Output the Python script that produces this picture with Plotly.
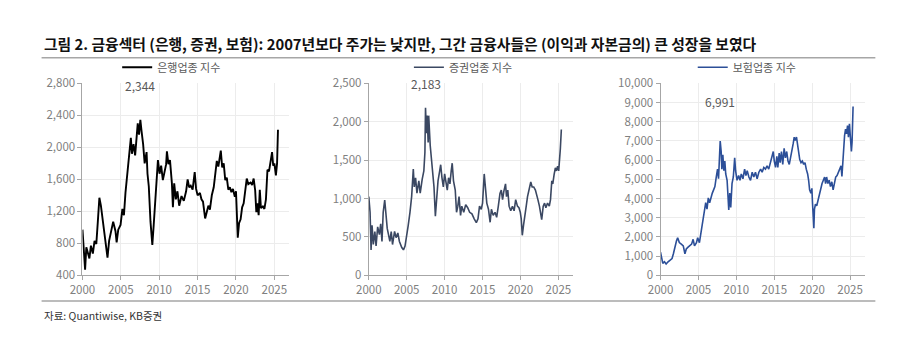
import plotly.graph_objects as go

# ---------------- data ----------------
bank_years = [2000.00, 2000.17, 2000.34, 2000.50, 2000.70, 2000.90, 2001.10, 2001.35, 2001.57, 2001.80,
              2002.00, 2002.20, 2002.40, 2002.60, 2002.85, 2003.05, 2003.26, 2003.47, 2003.77, 2004.00,
              2004.30, 2004.45, 2004.66, 2004.96, 2005.20, 2005.40, 2005.60, 2005.93, 2006.10, 2006.30,
              2006.44, 2006.65, 2006.86, 2007.08, 2007.20, 2007.37, 2007.54, 2007.70, 2007.90, 2008.10,
              2008.35, 2008.47, 2008.64, 2008.86, 2009.00, 2009.10, 2009.28, 2009.50, 2009.70, 2009.83,
              2010.04, 2010.25, 2010.47, 2010.70, 2010.90, 2011.00, 2011.20, 2011.40, 2011.65, 2011.78,
              2011.95, 2012.16, 2012.37, 2012.60, 2012.90, 2013.20, 2013.50, 2013.70, 2013.90, 2014.10,
              2014.35, 2014.62, 2014.80, 2015.00, 2015.30, 2015.50, 2015.70, 2015.98, 2016.20, 2016.40,
              2016.60, 2016.85, 2017.10, 2017.35, 2017.50, 2017.70, 2018.02, 2018.20, 2018.40, 2018.60,
              2018.80, 2019.00, 2019.20, 2019.40, 2019.60, 2019.85, 2020.00, 2020.23, 2020.40, 2020.60,
              2020.80, 2021.00, 2021.20, 2021.40, 2021.60, 2021.90, 2022.10, 2022.30, 2022.50, 2022.65,
              2022.80, 2022.95, 2023.10, 2023.25, 2023.50, 2023.70, 2023.90, 2024.10, 2024.30, 2024.50,
              2024.70, 2024.85, 2025.00, 2025.20, 2025.35, 2025.47]
bank_vals = [970, 707, 470, 750, 690, 610, 770, 670, 830, 790,
             1070, 1370, 1270, 1110, 870, 750, 620, 830, 990, 1070,
             950, 810, 970, 1030, 1230, 1150, 1430, 1800, 1880, 2120,
             1920, 2040, 1900, 2200, 2300, 2160, 2344, 2200, 2040, 1800,
             1940, 1670, 1510, 1070, 910, 780, 1030, 1350, 1750, 1840,
             1670, 1770, 1590, 1710, 1790, 1950, 1790, 1840, 1550, 1250,
             1550, 1350, 1450, 1270, 1390, 1330, 1450, 1600, 1500, 1520,
             1470, 1690, 1480, 1400, 1430, 1350, 1320, 1110, 1200, 1270,
             1220, 1400, 1500, 1710, 1830, 1760, 1960, 1750, 1800, 1590,
             1620, 1470, 1500, 1440, 1480, 1380, 1450, 870, 1050, 1100,
             1250, 1300, 1500, 1610, 1540, 1560, 1530, 1610, 1460, 1190,
             1300, 1150, 1470, 1240, 1260, 1230, 1350, 1720, 1700, 1840,
             1940, 1770, 1800, 1650, 1800, 2220]

sec_years = [2000.00, 2000.17, 2000.30, 2000.43, 2000.60, 2000.80, 2000.96, 2001.17, 2001.40, 2001.57,
             2001.74, 2001.90, 2002.10, 2002.26, 2002.43, 2002.60, 2002.78, 2002.96, 2003.13, 2003.40,
             2003.60, 2003.83, 2004.04, 2004.35, 2004.57, 2004.78, 2005.04, 2005.20, 2005.43, 2005.65,
             2005.87, 2006.00, 2006.17, 2006.35, 2006.60, 2006.78, 2007.04, 2007.26, 2007.40, 2007.48,
             2007.60, 2007.70, 2007.83, 2007.90, 2008.10, 2008.26, 2008.43, 2008.60, 2008.78, 2008.96,
             2009.13, 2009.35, 2009.48, 2009.65, 2009.83, 2010.00, 2010.17, 2010.35, 2010.52, 2010.70,
             2010.87, 2011.00, 2011.17, 2011.40, 2011.57, 2011.74, 2011.90, 2012.10, 2012.26, 2012.52,
             2012.78, 2013.04, 2013.30, 2013.60, 2013.90, 2014.18, 2014.40, 2014.60, 2014.83, 2015.00,
             2015.22, 2015.35, 2015.56, 2015.78, 2016.00, 2016.17, 2016.40, 2016.65, 2016.86, 2017.08,
             2017.30, 2017.47, 2017.64, 2017.80, 2018.03, 2018.16, 2018.33, 2018.50, 2018.72, 2018.94,
             2019.16, 2019.37, 2019.60, 2019.80, 2019.98, 2020.10, 2020.24, 2020.40, 2020.58, 2020.76,
             2020.93, 2021.10, 2021.36, 2021.54, 2021.75, 2021.97, 2022.14, 2022.30, 2022.50, 2022.66,
             2022.80, 2023.00, 2023.18, 2023.35, 2023.57, 2023.80, 2023.96, 2024.13, 2024.26, 2024.44,
             2024.60, 2024.74, 2024.90, 2025.04, 2025.17, 2025.26, 2025.39]
sec_vals = [1025, 820, 330, 650, 400, 570, 380, 630, 530, 670,
            440, 820, 980, 780, 610, 530, 440, 570, 400, 570,
            490, 550, 440, 360, 330, 380, 530, 650, 820, 1025,
            1385, 1150, 1270, 1070, 1230, 1070, 1250, 1360, 1600, 2183,
            1850, 2080, 1730, 2080, 1690, 1480, 1380, 1150, 770, 980,
            1230, 1360, 1440, 1270, 1150, 1320, 1230, 1110, 1270, 1190,
            1360, 1460, 1230, 1110, 820, 900, 1025, 780, 900, 820,
            920, 880, 820, 800, 735, 685, 735, 900, 860, 940,
            1320, 1190, 940, 860, 690, 860, 780, 820, 755, 900,
            1065, 1110, 985, 1090, 1190, 1025, 1110, 900, 840, 900,
            840, 985, 900, 880, 820, 735, 520, 650, 820, 900,
            1025, 1090, 1215, 1150, 1150, 1110, 1025, 985, 900, 820,
            725, 900, 940, 880, 940, 900, 985, 1230, 1190, 1315,
            1400, 1360, 1420, 1360, 1480, 1650, 1900]

ins_years = [2000.00, 2000.13, 2000.30, 2000.52, 2000.74, 2001.00, 2001.26, 2001.52, 2001.70, 2001.87,
             2002.10, 2002.26, 2002.48, 2002.74, 2003.00, 2003.22, 2003.40, 2003.60, 2003.87, 2004.10,
             2004.30, 2004.48, 2004.74, 2004.90, 2005.13, 2005.30, 2005.48, 2005.65, 2005.83, 2005.96,
             2006.13, 2006.30, 2006.48, 2006.65, 2006.83, 2007.00, 2007.17, 2007.35, 2007.52, 2007.65,
             2007.78, 2007.87, 2008.00, 2008.09, 2008.22, 2008.35, 2008.48, 2008.60, 2008.78, 2008.91,
             2009.00, 2009.13, 2009.26, 2009.43, 2009.60, 2009.78, 2009.90, 2010.09, 2010.30, 2010.48,
             2010.65, 2010.87, 2011.09, 2011.26, 2011.43, 2011.65, 2011.87, 2012.09, 2012.30, 2012.52,
             2012.74, 2012.97, 2013.20, 2013.40, 2013.62, 2013.84, 2014.05, 2014.27, 2014.48, 2014.70,
             2014.87, 2015.00, 2015.17, 2015.34, 2015.47, 2015.65, 2015.78, 2015.95, 2016.12, 2016.30,
             2016.47, 2016.64, 2016.81, 2016.98, 2017.16, 2017.33, 2017.50, 2017.63, 2017.76, 2017.93,
             2018.06, 2018.19, 2018.36, 2018.53, 2018.70, 2018.88, 2019.05, 2019.22, 2019.40, 2019.53,
             2019.66, 2019.83, 2019.96, 2020.04, 2020.13, 2020.22, 2020.30, 2020.43, 2020.60, 2020.78,
             2020.95, 2021.12, 2021.30, 2021.47, 2021.64, 2021.77, 2021.90, 2022.07, 2022.24, 2022.41,
             2022.59, 2022.76, 2022.93, 2023.10, 2023.28, 2023.45, 2023.62, 2023.80, 2023.92, 2024.05,
             2024.14, 2024.27, 2024.40, 2024.53, 2024.66, 2024.78, 2024.91, 2025.04, 2025.17, 2025.26,
             2025.39]
ins_vals = [1200, 870, 620, 700, 580, 700, 780, 870, 1120, 1450,
            1780, 1950, 1700, 1620, 1530, 1120, 1370, 1450, 1530, 1620,
            1870, 1530, 1700, 1950, 1700, 2120, 2620, 2950, 3530, 3780,
            3450, 4030, 3780, 4120, 4280, 4450, 4620, 5120, 5530, 5030,
            5950, 6991, 6450, 5530, 6280, 5450, 5950, 5280, 4950, 3620,
            3400, 4280, 3530, 4780, 5120, 6120, 5450, 4950, 5200, 4950,
            5280, 5030, 5530, 5200, 5450, 5120, 4950, 5370, 5120, 5370,
            5030, 5370, 5530, 5370, 5620, 5530, 5700, 5530, 5870, 6120,
            6450, 5950, 5620, 6200, 5620, 6370, 5870, 6450, 5780, 6620,
            6120, 6450, 5950, 5780, 6120, 6370, 6870, 7200, 7030, 7200,
            6780, 6620, 6030, 5870, 5950, 5780, 5870, 5530, 5280, 4950,
            4450, 4280, 4530, 3780, 3280, 2450, 3450, 3700, 3620, 3950,
            4120, 4450, 4780, 4950, 5120, 4780, 5120, 4780, 4950, 4620,
            4870, 4450, 4870, 5120, 5200, 5370, 5530, 5700, 5150, 6120,
            7030, 7280, 7620, 7370, 7800, 7200, 7900, 7120, 6450, 6950,
            8800]

names = ["은행업종 지수", "증권업종 지수", "보험업종 지수"]
peak_labels = ["2,344", "2,183", "6,991"]
peak_years = [2007.54, 2007.48, 2007.87]
peak_vals = [2344, 2183, 6991]
x_ticks = [2000, 2005, 2010, 2015, 2020, 2025]
y_ranges = [[400, 2800], [0, 2500], [0, 10000]]
y_dticks = [400, 500, 1000]
title_text = "그림 2. 금융섹터 (은행, 증권, 보험): 2007년보다 주가는 낮지만, 그간 금융사들은 (이익과 자본금의) 큰 성장을 보였다"
source_text = "자료: Quantiwise, KB증권"

# ---------------- styling ----------------
W, H = 900, 349
FONT = "Noto Sans CJK KR"
colors = ["#000000", "#3b4862", "#2c4f98"]
widths = [1.9, 1.6, 1.6]
x_domains = [[70.5 / W, 280 / W], [361 / W, 568 / W], [657 / W, 864 / W]]
y_domain = [(H - 279) / H, (H - 78) / H]
legend_centers = [161 / W, 457 / W, 745 / W]
peak_offsets = [-34, -24, -40]


def py(p):
    return (H - p) / H


fig = go.Figure()
series = [(bank_years, bank_vals), (sec_years, sec_vals), (ins_years, ins_vals)]
legend_keys = ["legend", "legend2", "legend3"]

for i, (xs, ys) in enumerate(series):
    sfx = "" if i == 0 else str(i + 1)
    fig.add_trace(go.Scatter(
        x=xs, y=ys, mode="lines", name=names[i],
        line=dict(color=colors[i], width=widths[i]),
        xaxis="x" + sfx, yaxis="y" + sfx,
        legend=legend_keys[i], showlegend=True,
    ))
    common = dict(
        showline=True, linecolor="#a6a6a6", linewidth=1,
        showgrid=True, gridcolor="#ececec", gridwidth=1,
        ticks="outside", ticklen=4, tickcolor="#a6a6a6",
        tickfont=dict(family=FONT, size=11.5, color="#808080"),
        zeroline=False, fixedrange=True,
    )
    fig.update_layout({
        "xaxis" + sfx: dict(domain=x_domains[i], range=[2000, 2026.9], tickvals=x_ticks,
                            anchor="y" + sfx, **common),
        "yaxis" + sfx: dict(domain=y_domain, range=y_ranges[i], dtick=y_dticks[i],
                            tickformat=",", anchor="x" + sfx, **common),
        legend_keys[i]: dict(
            x=legend_centers[i], y=py(61),
            xanchor="center", yanchor="middle", orientation="h",
            font=dict(family=FONT, size=11, color="#595959"),
            bgcolor="rgba(0,0,0,0)", itemwidth=30,
        ),
    })
    fig.add_annotation(
        x=peak_years[i], y=peak_vals[i], xref="x" + sfx, yref="y" + sfx,
        text=peak_labels[i], showarrow=False, yshift=-peak_offsets[i],
        font=dict(family=FONT, size=12, color="#595959"),
    )

# title, separators, source
fig.add_annotation(x=29 / W, y=py(36), xref="paper", yref="paper", xanchor="left", yanchor="middle",
                   text="<b>" + title_text + "</b>", showarrow=False,
                   font=dict(family=FONT, size=14.8, color="#111111"))
fig.add_shape(type="line", xref="paper", yref="paper", x0=29 / W, x1=875 / W, y0=py(51), y1=py(51),
              line=dict(color="#a6a6a6", width=1.5))
fig.add_shape(type="line", xref="paper", yref="paper", x0=29 / W, x1=875 / W, y0=py(306), y1=py(306),
              line=dict(color="#a6a6a6", width=1.5))
fig.add_annotation(x=29 / W, y=py(321), xref="paper", yref="paper", xanchor="left", yanchor="middle",
                   text=source_text, showarrow=False,
                   font=dict(family=FONT, size=10.5, color="#333333"))

fig.update_layout(
    width=W, height=H, autosize=False,
    margin=dict(l=0, r=0, t=0, b=0),
    paper_bgcolor="white", plot_bgcolor="white",
    font=dict(family=FONT),
)

fig.write_html("out.html", config={"displayModeBar": False})
